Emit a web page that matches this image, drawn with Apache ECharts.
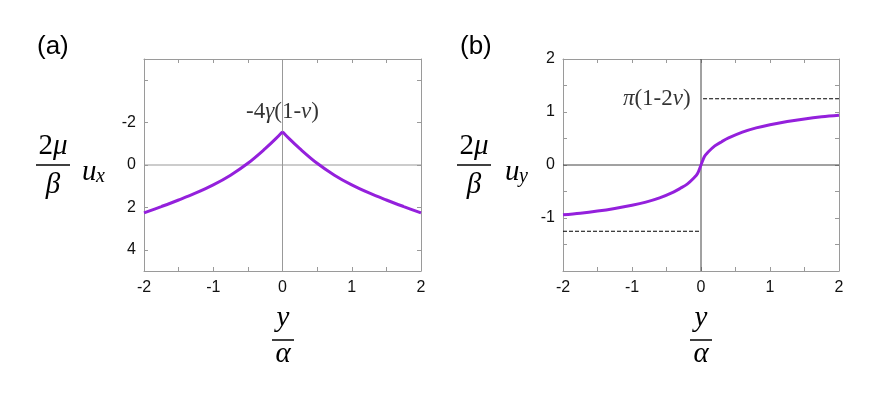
<!DOCTYPE html>
<html>
<head>
<meta charset="utf-8">
<script src="https://cdn.jsdelivr.net/npm/echarts@6/dist/echarts.min.js"></script>
<style>
  html, body { margin: 0; padding: 0; background: #fff; }
  #chart { width: 871px; height: 397px; }
</style>
</head>
<body>
<div id="chart"></div>
<script>
// panel (a): u_x against y/alpha (cusp at 0)
var uxX = [-2, -1.75, -1.5, -1.25, -1, -0.75, -0.5, -0.25, -0.1, 0, 0.1, 0.25, 0.5, 0.75, 1, 1.25, 1.5, 1.75, 2];
var uxY = [2.26, 1.96, 1.65, 1.32, 0.94, 0.48, -0.08, -0.77, -1.23, -1.57, -1.23, -0.77, -0.08, 0.48, 0.94, 1.32, 1.65, 1.96, 2.26];
var uxPeakLabel = [0, -2.5];

// panel (b): u_y against y/alpha
var uyX = [-2, -1.75, -1.5, -1.25, -1, -0.8, -0.6, -0.4, -0.3, -0.2, -0.1, -0.05, 0, 0.05, 0.1, 0.2, 0.3, 0.4, 0.6, 0.8, 1, 1.25, 1.5, 1.75, 2];
var uyY = [-0.94, -0.91, -0.87, -0.82, -0.76, -0.70, -0.62, -0.51, -0.44, -0.36, -0.24, -0.16, 0, 0.16, 0.24, 0.36, 0.44, 0.51, 0.62, 0.70, 0.76, 0.82, 0.87, 0.91, 0.94];
var uyLimitUpper = [[0.03, 1.25], [2, 1.25]];
var uyLimitLower = [[-2, -1.25], [0, -1.25]];
var uyLimitLabel = [-0.15, 1.25];

// ticks and labels
var xTicks = [-2, -1.5, -1, -0.5, 0, 0.5, 1, 1.5, 2];
var xLabels = [-2, -1, 0, 1, 2];
var uxTicks = [-4, -2, 0, 2, 4];
var uxLabels = [-2, 0, 2, 4];
var uyTicks = [-1.5, -1, -0.5, 0, 0.5, 1, 1.5];
var uyLabels = [-1, 0, 1, 2];

var SERIF = '"Liberation Serif", "DejaVu Serif", serif';
var SANS = '"Liberation Sans", Arial, sans-serif';
var FRAME = '#9a9a9a';
var PURPLE = '#9420dc';

function pairs(xs, ys) {
  return xs.map(function (x, i) { return [x, ys[i]]; });
}

var uxData = pairs(uxX, uxY);
var uxLeft = uxData.filter(function (p) { return p[0] <= 0; });
var uxRight = uxData.filter(function (p) { return p[0] >= 0; });
var uyData = pairs(uyX, uyY);

function axis(opts) {
  var a = {
    type: 'value',
    gridIndex: opts.grid,
    position: opts.position,
    min: opts.min,
    max: opts.max,
    inverse: !!opts.inverse,
    axisLine: { show: true, onZero: false, lineStyle: { color: FRAME, width: 1 } },
    axisTick: { show: true, inside: true, length: 4, customValues: opts.ticks, lineStyle: { color: FRAME } },
    axisLabel: { show: false },
    splitLine: { show: false }
  };
  if (opts.labels) {
    a.axisLabel = {
      show: true,
      customValues: opts.labels,
      fontFamily: SANS,
      fontSize: 16,
      color: '#111',
      margin: opts.margin
    };
  }
  return a;
}

function segment(data, xi, color, type) {
  return {
    type: 'line',
    xAxisIndex: xi,
    yAxisIndex: xi,
    data: data,
    symbol: 'none',
    silent: true,
    lineStyle: { color: color, width: 1, type: type || 'solid' }
  };
}

function curve(data, xi) {
  return {
    type: 'line',
    xAxisIndex: xi,
    yAxisIndex: xi,
    data: data,
    symbol: 'none',
    smooth: 0.35,
    silent: true,
    lineStyle: { color: PURPLE, width: 3 }
  };
}

var mathRich = {
  n: { fontFamily: SERIF, fontSize: 23, color: '#000' },
  g: { fontFamily: SERIF, fontSize: 23, fontStyle: 'italic', color: '#000' }
};

function textEl(x, y, text, size, italic, align) {
  return {
    type: 'text',
    x: x,
    y: y,
    style: {
      text: text,
      fontFamily: SERIF,
      fontSize: size,
      fontStyle: italic ? 'italic' : 'normal',
      fill: '#000',
      align: align || 'center',
      verticalAlign: 'middle'
    }
  };
}

function fraction(cx, yBar, halfW, top, bottom) {
  return [
    top,
    { type: 'line', shape: { x1: cx - halfW, y1: yBar, x2: cx + halfW, y2: yBar }, style: { stroke: '#000', lineWidth: 1.5 } },
    bottom
  ];
}

function yTitle(cx, ux, sub) {
  var topTxt = {
    type: 'text', x: cx, y: 146,
    style: {
      text: '{n|2}{g|μ}', align: 'center', verticalAlign: 'middle',
      rich: {
        n: { fontFamily: SERIF, fontSize: 29, color: '#000' },
        g: { fontFamily: SERIF, fontSize: 29, fontStyle: 'italic', color: '#000' }
      }
    }
  };
  return fraction(cx, 165, 17, topTxt, textEl(cx, 185, 'β', 29, true))
    .concat([textEl(ux, 172, 'u', 29, true, 'left'), textEl(ux + 14, 177, sub, 20, true, 'left')]);
}

function xTitle(cx) {
  return fraction(cx, 340, 11, textEl(cx, 318, 'y', 29, true), textEl(cx, 354, 'α', 29, true));
}

var chart = echarts.init(document.getElementById('chart'), null, { renderer: 'canvas' });

chart.setOption({
  backgroundColor: '#fff',
  animation: false,
  grid: [
    { left: 144, top: 59, width: 277, height: 212 },
    { left: 563, top: 59, width: 276, height: 212 }
  ],
  xAxis: [
    axis({ grid: 0, position: 'bottom', min: -2, max: 2, ticks: xTicks, labels: xLabels, margin: 9 }),
    axis({ grid: 0, position: 'top', min: -2, max: 2, ticks: xTicks }),
    axis({ grid: 1, position: 'bottom', min: -2, max: 2, ticks: xTicks, labels: xLabels, margin: 9 }),
    axis({ grid: 1, position: 'top', min: -2, max: 2, ticks: xTicks })
  ],
  yAxis: [
    axis({ grid: 0, position: 'left', min: -5, max: 5, inverse: true, ticks: uxTicks, labels: uxLabels, margin: 8 }),
    axis({ grid: 0, position: 'right', min: -5, max: 5, inverse: true, ticks: uxTicks }),
    axis({ grid: 1, position: 'left', min: -2, max: 2, ticks: uyTicks, labels: uyLabels, margin: 8 }),
    axis({ grid: 1, position: 'right', min: -2, max: 2, ticks: uyTicks })
  ],
  series: [
    segment([[-2, 0], [2, 0]], 0, '#999'),
    segment([[0, -5], [0, 5]], 0, '#999'),
    curve(uxLeft, 0),
    curve(uxRight, 0),
    {
      type: 'scatter',
      xAxisIndex: 0,
      yAxisIndex: 0,
      data: [uxPeakLabel],
      symbolSize: 0,
      silent: true,
      label: {
        show: true,
        position: 'inside',
        formatter: '{n|-4}{g|γ}{n|(1-}{g|ν}{n|)}',
        rich: mathRich
      }
    },
    segment([[-2, 0], [2, 0]], 2, '#444'),
    segment([[0, -2], [0, 2]], 2, '#444'),
    segment(uyLimitUpper, 2, '#000', 'dashed'),
    segment(uyLimitLower, 2, '#000', 'dashed'),
    curve(uyData, 2),
    {
      type: 'scatter',
      xAxisIndex: 2,
      yAxisIndex: 2,
      data: [uyLimitLabel],
      symbolSize: 0,
      silent: true,
      label: {
        show: true,
        position: 'left',
        distance: 0,
        formatter: '{g|π}{n|(1-2}{g|ν}{n|)}',
        rich: mathRich
      }
    }
  ],
  graphic: [
    { type: 'text', x: 37, y: 47, style: { text: '(a)', fontFamily: SANS, fontSize: 26, fill: '#000', verticalAlign: 'middle' } },
    { type: 'text', x: 460, y: 47, style: { text: '(b)', fontFamily: SANS, fontSize: 26, fill: '#000', verticalAlign: 'middle' } }
  ].concat(yTitle(53, 82, 'x'), yTitle(474, 505, 'y'), xTitle(283), xTitle(701))
});
</script>
</body>
</html>
